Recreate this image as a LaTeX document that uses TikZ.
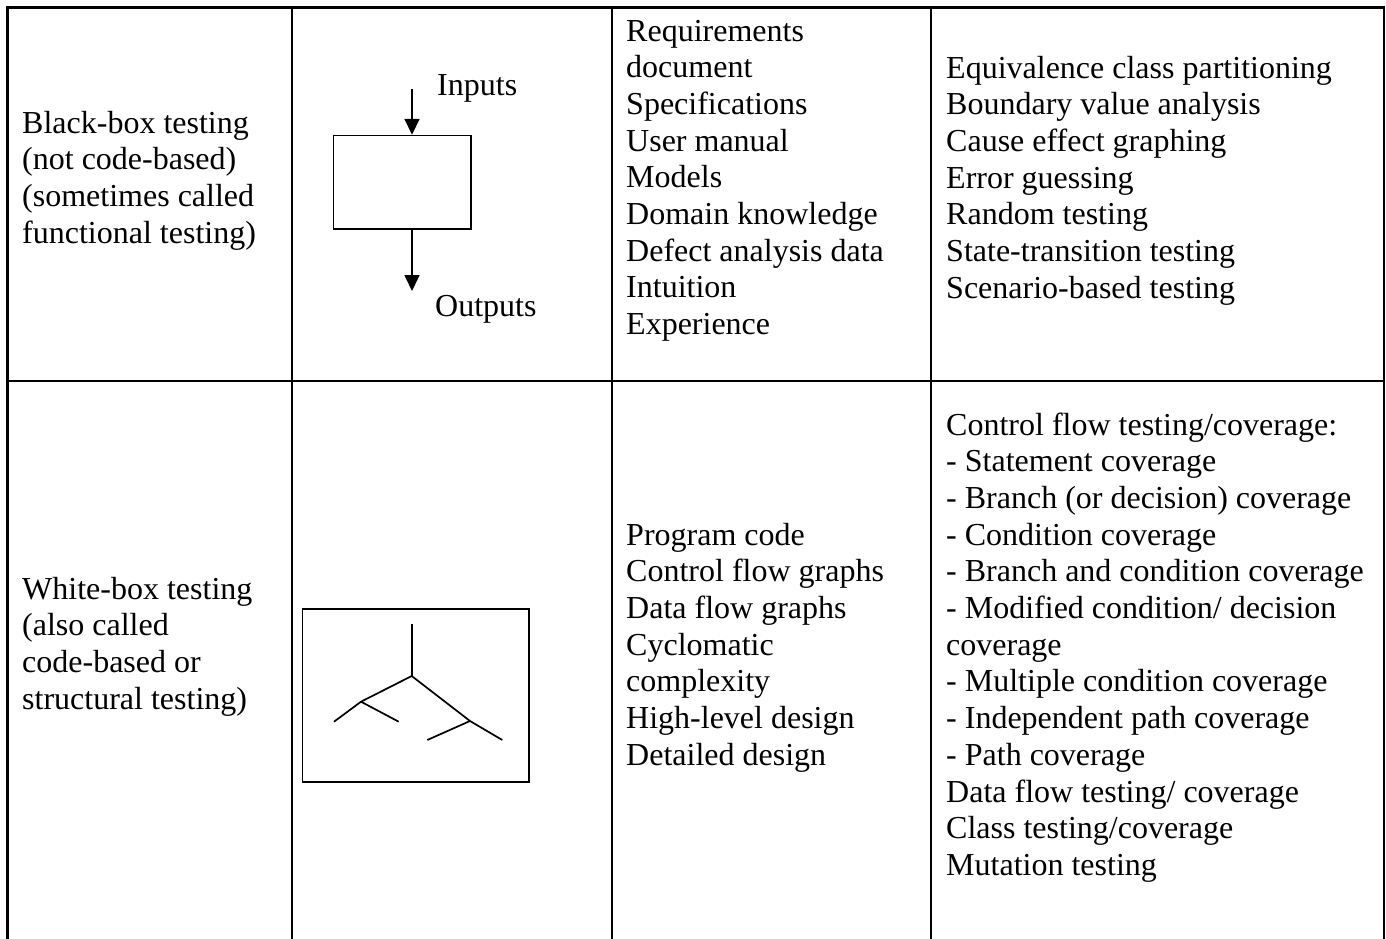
\documentclass[tikz,border=0pt]{standalone}
\usepackage{fontspec}
\setmainfont{Liberation Serif}
\usetikzlibrary{arrows.meta}
\begin{document}
\begin{tikzpicture}[x=1pt,y=-1pt,
  rule/.style={line width=2.2pt, line join=miter},
  fine/.style={line width=1.7pt},
  % multi-line cells are placed by the baseline of their last line
  celltext/.style={anchor=base west, inner sep=0pt, align=left,
    font=\fontsize{32}{36.7}\selectfont},
  flow/.style={fine, -{Triangle[length=16pt,width=15pt]}},
  sketchbox/.style={draw, fine, rectangle, inner sep=0pt}
]
\useasboundingbox (0,0) rectangle (1386,939);

% table grid (open at the bottom)
\draw[rule] (7.5,939) -- (7.5,7.5) -- (1384,7.5) -- (1384,939);
\draw[rule] (292,7.5) -- (292,939);
\draw[rule] (612,7.5) -- (612,939);
\draw[rule] (931,7.5) -- (931,939);
\draw[rule] (7.5,381) -- (1384,381);

% row 1: black-box testing
\node[celltext] (bbname) at (22,243.1) {Black-box testing\\(not code-based)\\(sometimes called\\functional testing)};

\node[sketchbox, minimum width=137.7pt, minimum height=93.3pt] (bbox) at (402.2,182.3) {};
\coordinate (inTop) at (412,89);
\coordinate (outEnd) at (412,291);
\draw[flow] (inTop) -- (inTop |- bbox.north);
\draw[flow] (bbox.south -| outEnd) -- (outEnd);
\node[celltext] (inLbl) at (437,96) {Inputs};
\node[celltext] (outLbl) at (435,316) {Outputs};

\node[celltext] (bbsrc) at (626,334.6) {Requirements\\document\\Specifications\\User manual\\Models\\Domain knowledge\\Defect analysis data\\Intuition\\Experience};

\node[celltext] (bbtech) at (946,298.2) {Equivalence class partitioning\\Boundary value analysis\\Cause effect graphing\\Error guessing\\Random testing\\State-transition testing\\Scenario-based testing};

% row 2: white-box testing
\node[celltext] (wbname) at (22,709.1) {White-box testing\\(also called\\code-based or\\structural testing)};

\node[sketchbox, minimum width=226.7pt, minimum height=172.7pt] (tbox) at (415.7,695.3) {};
\coordinate (tTop) at (411.7,624.3);
\coordinate (tRoot) at (411.7,676);
\coordinate (tL) at (361,701.7);
\coordinate (tLL) at (334,721.7);
\coordinate (tLR) at (398.7,721.7);
\coordinate (tR) at (470,721);
\coordinate (tRL) at (427.3,740);
\coordinate (tRR) at (502.3,740);
\draw[fine] (tTop) -- (tRoot);
\draw[fine] (tRoot) -- (tL) -- (tLL);
\draw[fine] (tL) -- (tLR);
\draw[fine] (tRoot) -- (tR) -- (tRR);
\draw[fine] (tR) -- (tRL);

\node[celltext] (wbsrc) at (626,765.2) {Program code\\Control flow graphs\\Data flow graphs\\Cyclomatic\\complexity\\High-level design\\Detailed design};

\node[celltext] (wbtech) at (946,875.4) {Control flow testing/coverage:\\- Statement coverage\\- Branch (or decision) coverage\\- Condition coverage\\- Branch and condition coverage\\- Modified condition/ decision\\coverage\\- Multiple condition coverage\\- Independent path coverage\\- Path coverage\\Data flow testing/ coverage\\Class testing/coverage\\Mutation testing};
\end{tikzpicture}
\end{document}
